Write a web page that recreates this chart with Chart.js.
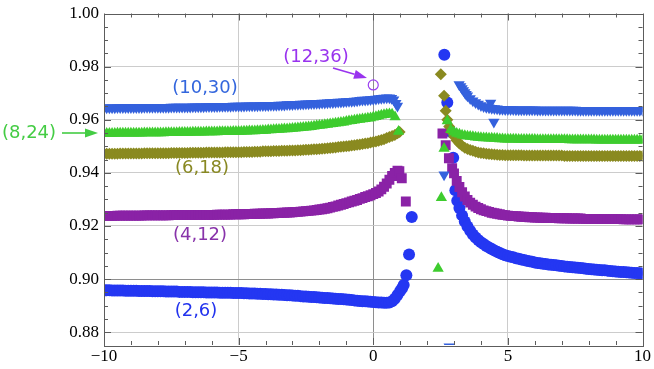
<!DOCTYPE html>
<html><head><meta charset="utf-8">
<script src="https://cdn.jsdelivr.net/npm/chart.js@4/dist/chart.umd.min.js"></script>
<style>html,body{margin:0;padding:0;background:#fff;}canvas{display:block;}</style>
</head><body>
<canvas id="c" width="654" height="369"></canvas>
<script>
// ---------- data ----------
const xTickValues = [-10, -5, 0, 5, 10];
const yTickValues = [0.88, 0.90, 0.92, 0.94, 0.96, 0.98, 1.00];

// shared x samples for the flat left part and the flat right part
const xLeft = [-10,-9.9,-9.8,-9.7,-9.6,-9.5,-9.4,-9.3,-9.2,-9.1,
  -9,-8.9,-8.8,-8.7,-8.6,-8.5,-8.4,-8.3,-8.2,-8.1,
  -8,-7.9,-7.8,-7.7,-7.6,-7.5,-7.4,-7.3,-7.2,-7.1,
  -7,-6.9,-6.8,-6.7,-6.6,-6.5,-6.4,-6.3,-6.2,-6.1,
  -6,-5.9,-5.8,-5.7,-5.6,-5.5,-5.4,-5.3,-5.2,-5.1,
  -5,-4.9,-4.8,-4.7,-4.6,-4.5,-4.4,-4.3,-4.2,-4.1,
  -4,-3.9,-3.8,-3.7,-3.6,-3.5,-3.4,-3.3,-3.2,-3.1,
  -3,-2.9,-2.8,-2.7,-2.6,-2.5,-2.4,-2.3,-2.2,-2.1,
  -2,-1.9,-1.8,-1.7,-1.6,-1.5,-1.4,-1.3,-1.2,-1.1,
  -1,-0.9,-0.8,-0.7,-0.6,-0.5,-0.4,-0.3,-0.2,-0.1,
  0];
const xRight = [5.1,5.2,5.3,5.4,5.5,5.6,5.7,5.8,5.9,6,
  6.1,6.2,6.3,6.4,6.5,6.6,6.7,6.8,6.9,7,
  7.1,7.2,7.3,7.4,7.5,7.6,7.7,7.8,7.9,8,
  8.1,8.2,8.3,8.4,8.5,8.6,8.7,8.8,8.9,9,
  9.1,9.2,9.3,9.4,9.5,9.6,9.7,9.8,9.9,10];

// (2,6)
const yLeft26 = [.8958,.8958,.8958,.8957,.8957,.8957,.8957,.8957,.8956,.8956,
  .8956,.8956,.8956,.8955,.8955,.8955,.8955,.8955,.8954,.8954,
  .8954,.8954,.8954,.8953,.8953,.8953,.8953,.8953,.8952,.8952,
  .8952,.8952,.8952,.8951,.8951,.8951,.8951,.8951,.8950,.8950,
  .8950,.8950,.8950,.8949,.8949,.8949,.8949,.8949,.8948,.8948,
  .8948,.8948,.8947,.8947,.8946,.8946,.8946,.8945,.8945,.8944,
  .8944,.8943,.8943,.8942,.8942,.8941,.8941,.8940,.8939,.8939,
  .8938,.8937,.8937,.8936,.8935,.8935,.8934,.8933,.8933,.8932,
  .8931,.8930,.8929,.8929,.8928,.8927,.8926,.8925,.8925,.8924,
  .8923,.8922,.8921,.8920,.8919,.8918,.8917,.8917,.8916,.8915,
  .8914];
const xMid26 = [0.1,0.2,0.3,0.4,0.5,0.6,0.7,0.8,0.9,1.0,1.07,1.13,1.23,1.33,1.43,
  2.64,2.75,2.87,2.97,3.05,3.12,3.2,3.3,3.4,3.5,3.6,3.7,3.8,3.9,4.0,4.1,4.2,4.3,4.4,4.5,4.6,4.7,4.8,4.9,5.0];
const yMid26 = [.8913,.8912,.8912,.8911,.8911,.8912,.8917,.8926,.8940,.8955,.8966,.8978,.9015,.9093,.9234,
  .9845,.9665,.9555,.9457,.9335,.9295,.9268,.9240,.9217,.9198,.9182,.9168,.9157,.9147,.9139,.9132,.9125,.9119,.9113,.9108,.9103,.9098,.9094,.9090,.9087];
const yRight26 = [.9084,.9082,.9079,.9077,.9074,.9072,.9069,.9067,.9065,.9063,
  .9061,.9060,.9058,.9057,.9055,.9054,.9053,.9052,.9050,.9049,
  .9048,.9047,.9046,.9045,.9044,.9043,.9042,.9041,.9039,.9038,
  .9037,.9036,.9035,.9034,.9033,.9033,.9032,.9031,.9030,.9029,
  .9028,.9027,.9027,.9026,.9025,.9024,.9023,.9023,.9022,.9021];

// (4,12)
const yLeft412 = [.9238,.9238,.9238,.9238,.9238,.9239,.9239,.9239,.9239,.9239,
  .9239,.9239,.9239,.9239,.9239,.9240,.9240,.9240,.9240,.9240,
  .9240,.9240,.9240,.9240,.9240,.9241,.9241,.9241,.9241,.9241,
  .9241,.9241,.9241,.9241,.9242,.9242,.9242,.9242,.9242,.9242,
  .9242,.9242,.9243,.9243,.9243,.9243,.9243,.9243,.9244,.9244,
  .9244,.9244,.9244,.9245,.9245,.9245,.9246,.9246,.9246,.9247,
  .9247,.9247,.9248,.9248,.9249,.9249,.9250,.9250,.9251,.9251,
  .9252,.9253,.9253,.9254,.9255,.9256,.9257,.9258,.9259,.9260,
  .9262,.9263,.9265,.9267,.9269,.9272,.9274,.9277,.9280,.9283,
  .9286,.9289,.9292,.9295,.9298,.9302,.9305,.9309,.9312,.9316,
  .9320];
const xMid412 = [0.1,0.2,0.3,0.4,0.5,0.6,0.7,0.8,0.9,0.97,1.06,1.21,
  2.57,2.69,2.81,2.93,3.0,3.1,3.2,3.3,3.4,3.5,3.6,3.7,3.8,3.9,4.0,4.1,4.2,4.3,4.4,4.5,4.6,4.7,4.8,4.9,5.0];
const yMid412 = [.9324,.9330,.9338,.9348,.9360,.9374,.9388,.9400,.9408,.9406,.9380,.9292,
  .9548,.9504,.9455,.9418,.9398,.9370,.9347,.9327,.9311,.9298,.9288,.9280,.9273,.9268,.9263,.9259,.9256,.9253,.9250,.9248,.9246,.9244,.9242,.9241,.9239];
const yRight412 = [.9238,.9237,.9237,.9236,.9235,.9235,.9234,.9233,.9233,.9232,
  .9232,.9231,.9231,.9231,.9230,.9230,.9230,.9230,.9229,.9229,
  .9229,.9229,.9228,.9228,.9228,.9228,.9228,.9227,.9227,.9227,
  .9227,.9227,.9227,.9226,.9226,.9226,.9226,.9226,.9226,.9226,
  .9226,.9226,.9225,.9225,.9225,.9225,.9225,.9225,.9225,.9225];

// (6,18)
const yLeft618 = [.9472,.9472,.9472,.9472,.9472,.9472,.9473,.9473,.9473,.9473,
  .9473,.9473,.9473,.9473,.9473,.9474,.9474,.9474,.9474,.9474,
  .9474,.9474,.9474,.9474,.9474,.9475,.9475,.9475,.9475,.9475,
  .9475,.9475,.9476,.9476,.9476,.9476,.9476,.9476,.9477,.9477,
  .9477,.9477,.9477,.9477,.9477,.9478,.9478,.9478,.9478,.9478,
  .9478,.9478,.9479,.9479,.9479,.9479,.9480,.9480,.9480,.9481,
  .9481,.9481,.9481,.9482,.9482,.9482,.9483,.9483,.9483,.9484,
  .9484,.9484,.9485,.9485,.9486,.9487,.9487,.9488,.9489,.9489,
  .9490,.9491,.9492,.9493,.9494,.9495,.9496,.9497,.9498,.9499,
  .9500,.9501,.9503,.9504,.9506,.9507,.9509,.9511,.9512,.9514,
  .9516];
const xMid618 = [0.1,0.2,0.3,0.4,0.5,0.6,0.7,0.8,0.9,0.98,
  2.51,2.63,2.69,2.75,2.82,2.9,3.0,3.1,3.2,3.3,3.4,3.5,3.6,3.7,3.8,3.9,4.0,4.1,4.2,4.3,4.4,4.5,4.6,4.7,4.8,4.9,5.0];
const yMid618 = [.9518,.9521,.9524,.9527,.9531,.9535,.9539,.9543,.9549,.9554,
  .9771,.9690,.9634,.9600,.9575,.9555,.9537,.9522,.9511,.9502,.9495,.9490,.9486,.9483,.9480,.9477,.9475,.9474,.9472,.9471,.9470,.9469,.9468,.9467,.9467,.9466,.9466];
const yRight618 = [.9466,.9466,.9466,.9466,.9466,.9465,.9465,.9465,.9465,.9465,
  .9465,.9465,.9465,.9465,.9465,.9465,.9465,.9465,.9465,.9465,
  .9464,.9464,.9464,.9464,.9464,.9464,.9464,.9464,.9464,.9464,
  .9464,.9464,.9464,.9464,.9464,.9464,.9464,.9464,.9464,.9464,
  .9464,.9464,.9464,.9464,.9464,.9464,.9464,.9464,.9464,.9464];

// (8,24)
const yLeft824 = [.9548,.9548,.9548,.9548,.9548,.9549,.9549,.9549,.9549,.9549,
  .9549,.9549,.9549,.9549,.9549,.9550,.9550,.9550,.9550,.9550,
  .9550,.9550,.9550,.9551,.9551,.9551,.9551,.9551,.9552,.9552,
  .9552,.9552,.9552,.9553,.9553,.9553,.9553,.9553,.9554,.9554,
  .9554,.9554,.9554,.9555,.9555,.9555,.9555,.9555,.9556,.9556,
  .9556,.9556,.9557,.9557,.9558,.9558,.9558,.9559,.9559,.9560,
  .9560,.9561,.9561,.9562,.9563,.9563,.9564,.9565,.9565,.9566,
  .9567,.9568,.9569,.9570,.9571,.9572,.9573,.9574,.9576,.9577,
  .9578,.9579,.9581,.9582,.9584,.9585,.9587,.9588,.9590,.9591,
  .9593,.9595,.9596,.9598,.9600,.9601,.9603,.9604,.9606,.9607,
  .9609];
const xMid824 = [0.1,0.2,0.3,0.4,0.5,0.6,0.7,0.81,0.94,
  2.41,2.53,2.63,2.75,2.88,3.0,3.1,3.2,3.3,3.4,3.5,3.6,3.7,3.8,3.9,4.0,4.1,4.2,4.3,4.4,4.5,4.6,4.7,4.8,4.9,5.0];
const yMid824 = [.9611,.9614,.9617,.9619,.9621,.9622,.9621,.9610,.9556,
  .9040,.9306,.9492,.9595,.9562,.9553,.9548,.9545,.9542,.9540,.9538,.9537,.9536,.9534,.9533,.9532,.9531,.9531,.9530,.9530,.9529,.9529,.9528,.9528,.9527,.9527];
const yRight824 = [.9527,.9527,.9527,.9526,.9526,.9526,.9526,.9526,.9526,.9526,
  .9525,.9525,.9525,.9525,.9525,.9525,.9525,.9525,.9525,.9525,
  .9525,.9525,.9524,.9524,.9524,.9524,.9524,.9524,.9524,.9524,
  .9524,.9524,.9523,.9523,.9523,.9523,.9523,.9523,.9523,.9523,
  .9523,.9523,.9523,.9523,.9523,.9523,.9523,.9523,.9523,.9523];

// (10,30)
const yLeft1030 = [.9645,.9645,.9645,.9645,.9645,.9646,.9646,.9646,.9646,.9646,
  .9646,.9646,.9646,.9646,.9646,.9647,.9647,.9647,.9647,.9647,
  .9647,.9647,.9647,.9647,.9647,.9648,.9648,.9648,.9648,.9648,
  .9648,.9648,.9648,.9649,.9649,.9649,.9649,.9649,.9650,.9650,
  .9650,.9650,.9650,.9651,.9651,.9651,.9651,.9651,.9652,.9652,
  .9652,.9652,.9652,.9653,.9653,.9653,.9653,.9653,.9654,.9654,
  .9654,.9654,.9655,.9655,.9655,.9656,.9656,.9656,.9657,.9657,
  .9657,.9658,.9658,.9659,.9659,.9660,.9660,.9661,.9661,.9662,
  .9662,.9663,.9663,.9664,.9665,.9665,.9666,.9667,.9667,.9668,
  .9669,.9670,.9670,.9671,.9672,.9673,.9674,.9674,.9675,.9676,
  .9677];
const xMid1030 = [0.1,0.2,0.3,0.4,0.5,0.6,0.68,0.76,0.84,0.9,
  2.63,2.82,3.19,3.25,3.3,3.35,3.4,3.45,3.5,3.6,3.7,3.8,3.9,4.0,4.1,4.2,4.3,4.36,4.4,4.48,4.5,4.6,4.7,4.8,4.9,5.0];
const yMid1030 = [.9678,.9680,.9681,.9682,.9683,.9683,.9681,.9675,.9662,.9652,
  .9393,.8745,.9733,.9725,.9718,.9710,.9703,.9696,.9690,.9680,.9672,.9665,.9659,.9654,.9650,.9647,.9645,.9663,.9643,.9592,.9642,.9641,.9640,.9640,.9639,.9639];
const yRight1030 = [.9639,.9639,.9638,.9638,.9638,.9638,.9638,.9638,.9638,.9638,
  .9637,.9637,.9637,.9637,.9637,.9637,.9637,.9637,.9637,.9637,
  .9637,.9637,.9637,.9637,.9637,.9636,.9636,.9636,.9636,.9636,
  .9636,.9636,.9636,.9636,.9636,.9636,.9636,.9636,.9636,.9636,
  .9636,.9636,.9636,.9636,.9636,.9636,.9636,.9636,.9636,.9636];

// (12,36): single point
const x1236 = [0];
const y1236 = [0.9731];

// ---------- build ----------
function pts(xa, ya){ return xa.map((x,i)=>({x:x, y:ya[i]})); }
function series(yl, xm, ym, yr){ return pts(xLeft, yl).concat(pts(xm, ym), pts(xRight, yr)); }

const COL = {
  s26:'#2437f2', s412:'#8a22a6', s618:'#8a8a20', s824:'#3ecc2e', s1030:'#3461dd', s1236:'#9b40f0'
};

const datasets = [
  {label:'(12,36)', data:pts(x1236,y1236), pointStyle:'circle', pointRadius:5, pointBackgroundColor:'rgba(0,0,0,0)', pointBorderColor:COL.s1236, pointBorderWidth:1.2},
  {label:'(10,30)', data:series(yLeft1030,xMid1030,yMid1030,yRight1030), pointStyle:'triangle', rotation:180, pointRadius:6.5, pointBackgroundColor:COL.s1030, pointBorderWidth:0},
  {label:'(8,24)', data:series(yLeft824,xMid824,yMid824,yRight824), pointStyle:'triangle', pointRadius:6.5, pointBackgroundColor:COL.s824, pointBorderWidth:0},
  {label:'(6,18)', data:series(yLeft618,xMid618,yMid618,yRight618), pointStyle:'rectRot', pointRadius:6, pointBackgroundColor:COL.s618, pointBorderWidth:0},
  {label:'(4,12)', data:series(yLeft412,xMid412,yMid412,yRight412), pointStyle:'rect', pointRadius:7, pointBackgroundColor:COL.s412, pointBorderWidth:0},
  {label:'(2,6)', data:series(yLeft26,xMid26,yMid26,yRight26), pointStyle:'circle', pointRadius:6, pointBackgroundColor:COL.s26, pointBorderWidth:0}
];

const labelFont = '18px "DejaVu Sans"';
const annotations = [
  {text:'(10,30)', px:205, py:88, color:'#3366dd'},
  {text:'(12,36)', px:316, py:57, color:'#9933ee'},
  {text:'(8,24)',  px:29,  py:133, color:'#44cc44'},
  {text:'(6,18)',  px:202, py:168, color:'#888822'},
  {text:'(4,12)',  px:200, py:235, color:'#8833aa'},
  {text:'(2,6)',   px:196, py:311, color:'#2233ee'}
];
const arrows = [
  {x1:62, y1:133, x2:98, y2:133, color:'#44cc44'},
  {x1:333, y1:68, x2:367, y2:78, color:'#9933ee'}
];

const framePlugin = {
  id:'frame',
  afterDatasetsDraw(chart){
    const ctx = chart.ctx, a = chart.chartArea, xs = chart.scales.x, ys = chart.scales.y;
    ctx.save();
    ctx.strokeStyle = '#5c5c5c';
    ctx.lineWidth = 1;
    ctx.beginPath();
    for (let v = -10; v <= 10; v++) {
      const px = Math.round(xs.getPixelForValue(v)) + 0.5;
      const len = (v % 5 === 0) ? 7 : 4;
      ctx.moveTo(px, a.bottom); ctx.lineTo(px, a.bottom - len);
      ctx.moveTo(px, a.top); ctx.lineTo(px, a.top + len);
    }
    for (let k = 1; k <= 25; k++) {
      const v = 0.875 + 0.005 * k;
      if (v < ys.min || v > ys.max + 1e-9) continue;
      const py = Math.round(ys.getPixelForValue(v)) + 0.5;
      const len = ((k - 1) % 4 === 0) ? 7 : 4;
      ctx.moveTo(a.left, py); ctx.lineTo(a.left + len, py);
      ctx.moveTo(a.right, py); ctx.lineTo(a.right - len, py);
    }
    ctx.stroke();
    ctx.strokeRect(Math.round(a.left) + 0.5, Math.round(a.top) + 0.5, Math.round(a.right - a.left), Math.round(a.bottom - a.top));
    ctx.restore();
  },
  afterDraw(chart){
    const ctx = chart.ctx;
    ctx.save();
    ctx.font = labelFont;
    ctx.textAlign = 'center';
    ctx.textBaseline = 'middle';
    annotations.forEach(t => { ctx.fillStyle = t.color; ctx.fillText(t.text, t.px, t.py); });
    arrows.forEach(ar => {
      const ang = Math.atan2(ar.y2 - ar.y1, ar.x2 - ar.x1);
      const hl = 13, hw = 4.5;
      const bx = ar.x2 - Math.cos(ang) * hl, by = ar.y2 - Math.sin(ang) * hl;
      ctx.strokeStyle = ar.color; ctx.fillStyle = ar.color; ctx.lineWidth = 1.6;
      ctx.beginPath(); ctx.moveTo(ar.x1, ar.y1); ctx.lineTo(bx, by); ctx.stroke();
      ctx.beginPath();
      ctx.moveTo(ar.x2, ar.y2);
      ctx.lineTo(bx - Math.sin(ang) * hw, by + Math.cos(ang) * hw);
      ctx.lineTo(bx + Math.sin(ang) * hw, by - Math.cos(ang) * hw);
      ctx.closePath(); ctx.fill();
    });
    ctx.restore();
  }
};

const tickFont = {family:'"Liberation Serif", "Times New Roman", serif', size:17, lineHeight:1};

new Chart(document.getElementById('c'), {
  type:'scatter',
  data:{datasets:datasets},
  options:{
    responsive:false, animation:false, events:[], devicePixelRatio:1,
    layout:{padding:{top:10, right:11, left:0, bottom:0}},
    plugins:{legend:{display:false}, tooltip:{enabled:false}},
    scales:{
      x:{
        type:'linear', min:-10, max:10,
        afterFit(s){ s.height = 24; },
        afterBuildTicks(s){ s.ticks = xTickValues.map(v => ({value:v})); },
        border:{display:false},
        grid:{drawTicks:false, lineWidth:1,
          color: c => { const v = c.tick && c.tick.value; if (v === 0) return '#8e8e8e'; if (v === -10 || v === 10) return 'rgba(0,0,0,0)'; return '#cccccc'; }},
        ticks:{padding:3, color:'#000', font:tickFont, maxRotation:0, autoSkip:false,
          callback: v => v < 0 ? '\u2212' + Math.abs(v) : String(v)}
      },
      y:{
        type:'linear', min:0.8752, max:1.0,
        afterFit(s){ s.width = 104; },
        afterBuildTicks(s){ s.ticks = yTickValues.map(v => ({value:v})); },
        border:{display:false},
        grid:{drawTicks:false, lineWidth:1,
          color: c => { const v = c.tick && c.tick.value; if (Math.abs(v - 0.90) < 1e-9) return '#8e8e8e'; if (Math.abs(v - 1.0) < 1e-9) return 'rgba(0,0,0,0)'; return '#cccccc'; }},
        ticks:{padding:5, color:'#000', font:tickFont, autoSkip:false,
          callback: v => Number(v).toFixed(2)}
      }
    }
  },
  plugins:[framePlugin]
});
</script>
</body></html>
